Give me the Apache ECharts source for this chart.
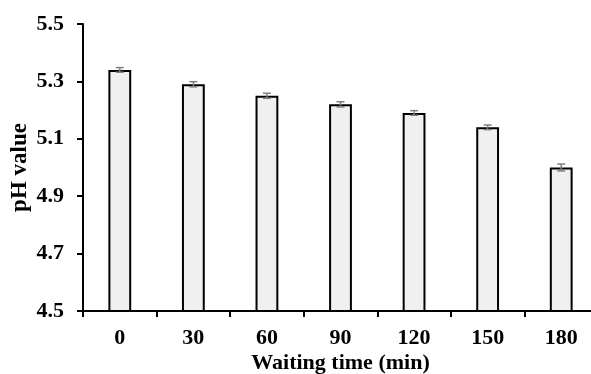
<!DOCTYPE html>
<html>
<head>
<meta charset="utf-8">
<script src="https://cdn.jsdelivr.net/npm/echarts@6/dist/echarts.min.js"></script>
<style>
    html, body { margin: 0; padding: 0; background: #fff; }
    #chart { width: 591px; height: 374px; }
</style>
</head>
<body>
<div id="chart"></div>
<script>
var categories = ['0', '30', '60', '90', '120', '150', '180'];
var phValues = [5.34, 5.29, 5.25, 5.22, 5.19, 5.14, 5.00];
var phErrors = [0.008, 0.009, 0.009, 0.009, 0.008, 0.008, 0.012];

var font = '"Liberation Serif", "Times New Roman", serif';
var chart = echarts.init(document.getElementById('chart'));

var errorData = phValues.map(function (v, i) {
    return [i, v - phErrors[i], v + phErrors[i]];
});

var option = {
    animation: false,
    grid: { left: 83, right: -7, top: 24, bottom: 63, containLabel: false, outerBoundsMode: 'none' },
    xAxis: {
        type: 'category',
        data: categories,
        name: 'Waiting time (min)',
        nameLocation: 'middle',
        nameGap: 41,
        nameMoveOverlap: false,
        nameTextStyle: { fontFamily: font, fontWeight: 'bold', fontSize: 22, color: '#000' },
        axisLine: { lineStyle: { color: '#000', width: 2 } },
        axisTick: { show: true, length: 6, lineStyle: { color: '#000', width: 2 } },
        axisLabel: { fontFamily: font, fontWeight: 'bold', fontSize: 22, color: '#000', margin: 16 }
    },
    yAxis: {
        type: 'value',
        min: 4.5,
        max: 5.5,
        interval: 0.2,
        name: 'pH value',
        nameLocation: 'middle',
        nameGap: 51,
        nameMoveOverlap: false,
        nameTextStyle: { fontFamily: font, fontWeight: 'bold', fontSize: 23, color: '#000' },
        axisLine: { show: true, lineStyle: { color: '#000', width: 2 } },
        axisTick: { show: true, length: 6, lineStyle: { color: '#000', width: 2 } },
        splitLine: { show: false },
        axisLabel: {
            fontFamily: font, fontWeight: 'bold', fontSize: 22, color: '#000', margin: 19,
            formatter: function (v) { return v.toFixed(1); }
        }
    },
    series: [
        {
            type: 'bar',
            data: phValues,
            barWidth: '31%',
            itemStyle: { color: '#f0f0f0', borderColor: '#000', borderWidth: 2 }
        },
        {
            type: 'custom',
            data: errorData,
            z: 10,
            renderItem: function (params, api) {
                var x = api.value(0);
                var lo = api.coord([x, api.value(1)]);
                var hi = api.coord([x, api.value(2)]);
                var half = 4;
                var style = { stroke: '#808080', lineWidth: 1.5 };
                return {
                    type: 'group',
                    children: [
                        { type: 'line', shape: { x1: lo[0], y1: lo[1], x2: hi[0], y2: hi[1] }, style: style },
                        { type: 'line', shape: { x1: lo[0] - half, y1: lo[1], x2: lo[0] + half, y2: lo[1] }, style: style },
                        { type: 'line', shape: { x1: hi[0] - half, y1: hi[1], x2: hi[0] + half, y2: hi[1] }, style: style }
                    ]
                };
            }
        }
    ]
};

chart.setOption(option);
</script>
</body>
</html>
